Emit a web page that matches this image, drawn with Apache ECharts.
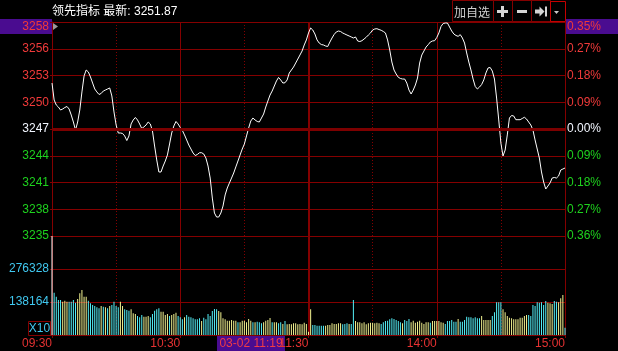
<!DOCTYPE html>
<html><head><meta charset="utf-8">
<script src="https://cdn.jsdelivr.net/npm/echarts@6/dist/echarts.min.js"></script>
<style>html,body{margin:0;padding:0;background:#000;}#c{width:618px;height:351px;}</style>
</head><body><div id="c"></div>
<script>
// ---------- data ----------
const titleText = '领先指标';
const latestLabel = '最新:';
const latestValue = '3251.87';
const cursorDate = '03-02';
const cursorTime = '11:19';
const buttonText = '加自选';
const prevClose = 3246.9;
const priceStep = 2.875;
const leftLabels = ['3235','3238','3241','3244','3247','3250','3253','3256','3258'];
const rightLabels = ['0.36%','0.27%','0.18%','0.09%','0.00%','0.09%','0.18%','0.27%','0.35%'];
const volTick = 138164;
const volLabels = ['', '138164', '276328', ''];
const volUnitLabel = 'X10';
const timeTicks = ['09:30','10:30','11:30','14:00','15:00'];
const hourLines = ['10:30','14:00'];
const breakLines = ['11:30'];
const halfHourLines = ['10:00','11:00','13:30','14:30'];

const prices = [
3251.84,3250.02,3249.48,3249.26,3248.94,3249.05,3249.21,3249.32,3249.05,3248.40,
3247.65,3246.79,3247.65,3248.94,3250.88,3252.60,3253.24,3253.03,3252.49,3251.84,
3251.20,3250.88,3250.61,3250.72,3250.98,3251.09,3251.20,3251.31,3250.45,3248.73,
3247.33,3246.47,3246.47,3246.42,3246.15,3245.66,3246.15,3247.44,3247.87,3248.14,
3247.87,3247.44,3246.95,3247.12,3247.33,3247.65,3247.44,3246.69,3245.07,3243.57,
3242.28,3242.28,3242.92,3243.46,3244.11,3245.29,3246.47,3247.22,3247.71,3247.44,
3247.06,3246.74,3246.26,3245.72,3245.18,3244.75,3244.32,3244.05,3244.16,3244.35,
3244.35,3244.21,3243.78,3242.92,3241.63,3239.48,3237.87,3237.44,3237.44,3237.87,
3238.62,3239.81,3240.56,3241.10,3241.63,3242.17,3242.82,3243.46,3244.11,3244.75,
3245.29,3246.15,3247.01,3247.76,3248.08,3247.87,3247.71,3247.65,3248.08,3248.51,
3249.26,3249.91,3250.55,3250.98,3251.52,3252.06,3252.44,3252.17,3251.84,3251.87,
3252.17,3252.92,3253.24,3253.56,3253.99,3254.42,3254.85,3255.28,3255.93,3256.47,
3257.22,3257.76,3257.54,3257.11,3256.47,3256.14,3255.98,3255.93,3255.82,3255.77,
3256.25,3256.68,3257.06,3257.33,3257.43,3257.38,3257.22,3257.11,3257.00,3256.90,
3256.79,3256.68,3256.79,3256.36,3256.30,3256.39,3256.57,3256.76,3257.00,3257.22,
3257.54,3257.65,3257.68,3257.59,3257.51,3257.38,3257.22,3256.47,3255.39,3254.10,
3253.24,3252.81,3252.46,3252.33,3252.27,3252.27,3251.84,3251.09,3250.66,3251.09,
3251.63,3252.38,3253.99,3254.85,3255.28,3255.71,3255.96,3256.25,3256.36,3256.39,
3256.73,3257.22,3257.92,3258.24,3258.29,3258.29,3257.86,3257.43,3257.11,3256.95,
3256.86,3257.04,3256.68,3256.14,3255.07,3254.10,3253.24,3252.27,3251.47,3251.20,
3251.41,3251.68,3252.17,3252.92,3253.46,3253.51,3253.13,3252.27,3250.23,3247.87,
3245.40,3244.00,3244.64,3246.26,3248.08,3248.35,3248.30,3247.90,3247.90,3247.90,
3248.03,3248.16,3247.97,3247.65,3247.33,3246.79,3245.72,3244.75,3243.78,3242.28,
3241.20,3240.45,3240.77,3241.10,3241.63,3241.69,3241.63,3241.85,3242.49,3242.60,3242.71
];

const volumes = [
430000,177100,160400,146500,146500,139400,143600,139400,139400,139400,
146500,135200,150700,174600,188400,160400,160400,143600,132700,125600,
121400,116000,111800,121400,118500,116000,111800,121400,125600,139400,
121400,116000,139400,121400,107600,104700,101700,107600,90900,87900,
79600,74100,83700,76600,76600,79600,74100,87900,101700,107600,
111800,97600,97600,83700,87900,79600,83700,87900,93400,79600,
74100,65700,74100,83700,76600,74100,69900,65700,65700,69900,
58600,72400,65700,87900,79600,100500,108900,107600,100500,95000,
69900,65700,59900,59900,62800,59900,59900,53200,53200,59900,
59900,53200,67000,59900,53200,53200,55700,53200,49000,53200,
59900,62800,71200,53200,53200,53200,49000,53200,46100,58600,
44800,46100,44800,49000,49000,44800,46100,44800,51500,46100,
13800,107600,41900,41900,38900,38900,38900,38900,38900,41900,
41900,49000,46100,46100,49000,49000,44800,46100,49000,46100,
46100,146500,58600,53200,53200,49000,53200,44800,49000,51500,
51500,49000,51500,49000,46100,53200,58600,59900,65700,69900,
67000,62800,58600,53200,49000,62800,58600,67000,53200,59900,
51500,55700,59900,51500,46100,53200,53200,51500,58600,58600,
58600,58600,53200,51500,46100,58600,58600,62800,55700,55700,
67000,55700,55700,62800,76600,74100,74100,69900,74100,69900,
69900,79600,62800,62800,62800,62800,79600,95000,136900,136900,
136900,107600,95000,79600,72400,69900,65700,65700,65700,72400,
72400,79600,83700,83700,79600,125600,121400,136900,135200,136900,
125600,142400,135200,132700,129800,142400,139400,136900,153700,167500,30600
];

// w = first print, c = down minute, y = up minute
const volKinds =
  'w' +
  'ccccyyyccc' + 'cyyyyycccc' + 'ccycycyccc' + 'cyycccyyyc' + 'ccyyyccccc' +
  'yyyycyyycc' + 'cycccccccy' + 'cccccccyyy' + 'yyyyyycyyy' + 'yyycycccyy' +
  'yycyyccycy' + 'yyyyyyyyyy' + 'yccccccyyy' + 'yyyyycccyc' + 'cyyyyyyyyy' +
  'yyyccccccc' + 'cccycccyyy' + 'yyyyyycyyy' + 'yyyccccccy' + 'cccccccccc' +
  'yyyyyccccc' + 'yyyyyyyyyy' + 'yycccccccc' + 'cyyyccyyyc';

// ---------- categories ----------
function hhmm(m){ const h = Math.floor(m/60), mm = m%60; return (h<10?'0':'')+h+':'+(mm<10?'0':'')+mm; }
const times = [];
for (let m = 9*60+30; m <= 11*60+30; m++) times.push(hhmm(m));
for (let m = 13*60+1; m <= 15*60; m++) times.push(hhmm(m));

// ---------- style ----------
const RED = '#840000';
const TXT_RED = '#f03a3a';
const TXT_GREEN = '#1ed21e';
const TXT_WHITE = '#f2f6ff';
const CYAN_TXT = '#40c8f0';
const PURPLE = '#4a0c90';
const FONT = '"Liberation Sans", Arial, sans-serif';
const volColorMap = { w: '#ffffff', c: '#54f0f8', y: '#f2f290' };

const inList = arr => (idx, val) => arr.indexOf(val !== undefined ? val : times[idx]) >= 0;
const signColor = v => { v = Number(v); return v > 0.001 ? TXT_RED : (v < -0.001 ? TXT_GREEN : TXT_WHITE); };

function xa(gridIndex, extra) {
  return Object.assign({
    type: 'category', gridIndex, data: times, boundaryGap: false, position: 'bottom',
    axisLine: { show: false }, axisTick: { show: false }, axisLabel: { show: false },
    splitLine: { show: false }
  }, extra);
}
const solidSplit = (list, w) => ({ show: true, interval: inList(list), lineStyle: { color: RED, width: w } });
const dotSplit = list => ({ show: true, interval: inList(list), lineStyle: { color: RED, width: 1, type: [1, 2] } });

const chart = echarts.init(document.getElementById('c'), null, { renderer: 'canvas' });

chart.setOption({
  backgroundColor: '#000',
  animation: false,
  grid: [
    { left: 52, top: 22, width: 513, height: 214, show: false },
    { left: 52, top: 236, width: 513, height: 99, show: false }
  ],
  xAxis: [
    xa(0, { splitLine: solidSplit(hourLines, 1) }),
    xa(0, { splitLine: solidSplit(breakLines, 2) }),
    xa(0, { splitLine: dotSplit(halfHourLines) }),
    xa(1, {
      splitLine: solidSplit(hourLines, 1),
      axisTick: { show: true, length: 3, interval: inList(timeTicks), lineStyle: { color: RED } },
      axisLabel: { show: true, interval: inList(timeTicks), align: 'right', margin: 3,
        color: '#e63232', fontFamily: FONT, fontSize: 12 }
    }),
    xa(1, { splitLine: solidSplit(breakLines, 2) }),
    xa(1, { splitLine: dotSplit(halfHourLines) })
  ],
  yAxis: [
    { type: 'value', gridIndex: 0, position: 'left', min: -4, max: 4, interval: 1,
      axisLine: { show: true, lineStyle: { color: RED } },
      axisTick: { show: true, length: 2, lineStyle: { color: RED } },
      splitLine: { show: true, lineStyle: { color: RED, width: 1 } },
      axisLabel: { margin: 3, fontFamily: FONT, fontSize: 12,
        formatter: v => (Math.round(v) === 4 ? '' : leftLabels[Math.round(v) + 4]),
        color: v => signColor(v) } },
    { type: 'value', gridIndex: 0, position: 'right', min: -4, max: 4, interval: 1,
      axisLine: { show: true, lineStyle: { color: RED } },
      axisTick: { show: false }, splitLine: { show: false },
      axisLabel: { margin: 2, fontFamily: FONT, fontSize: 12,
        formatter: v => (Math.round(v) === 4 ? '' : rightLabels[Math.round(v) + 4]),
        color: v => signColor(v) } },
    { type: 'value', gridIndex: 0, position: 'left',
      min: prevClose - 4 * priceStep, max: prevClose + 4 * priceStep,
      show: false, splitLine: { show: false } },
    { type: 'value', gridIndex: 1, position: 'left', min: 0, max: volTick * 3, interval: volTick,
      axisLine: { show: true, lineStyle: { color: RED } },
      axisTick: { show: true, length: 2, lineStyle: { color: RED } },
      splitLine: { show: true, lineStyle: { color: RED, width: 1 } },
      axisLabel: { margin: 3, fontFamily: FONT, fontSize: 12, color: CYAN_TXT,
        formatter: v => volLabels[Math.round(v / volTick)] || '' } },
    { type: 'value', gridIndex: 1, position: 'right', min: 0, max: volTick * 3,
      axisLine: { show: true, lineStyle: { color: RED } },
      axisTick: { show: false }, axisLabel: { show: false }, splitLine: { show: false } }
  ],
  series: [
    { type: 'line', xAxisIndex: 0, yAxisIndex: 2, data: [], z: 1, silent: true,
      markLine: { silent: true, symbol: 'none', animation: false, label: { show: false },
        lineStyle: { color: '#7c0000', width: 3, type: 'solid', opacity: 1 },
        emphasis: { disabled: true },
        data: [{ yAxis: prevClose }] } },
    { type: 'line', xAxisIndex: 0, yAxisIndex: 2, data: prices, z: 4, silent: true,
      symbol: 'none', showSymbol: false, lineStyle: { color: '#ffffff', width: 1 } },
    { type: 'bar', xAxisIndex: 3, yAxisIndex: 3, z: 4, silent: true, barWidth: 1, clip: true,
      data: volumes.map((v, i) => ({ value: v, itemStyle: { color: volColorMap[volKinds[i]] } })) }
  ]
});

// ---------- decorations / header ----------
const yTop = chart.convertToPixel({ yAxisIndex: 0 }, 4);
const xCursor = chart.convertToPixel({ xAxisIndex: 0 }, times.indexOf(cursorTime));
const ICON = '#d4d4d4';
const gfx = [
  { type: 'text', x: 52, y: 12, style: { text: titleText + ' ' + latestLabel + ' ' + latestValue,
      fill: '#ffffff', font: '12px "Liberation Sans","Noto Sans CJK SC",sans-serif', verticalAlign: 'middle', align: 'left' } },
  // buttons
  { type: 'rect', shape: { x: 452.5, y: 0.5, width: 41, height: 21 }, style: { fill: 'none', stroke: RED, lineWidth: 1 } },
  { type: 'rect', shape: { x: 493.5, y: 0.5, width: 19, height: 21 }, style: { fill: 'none', stroke: RED, lineWidth: 1 } },
  { type: 'rect', shape: { x: 512.5, y: 0.5, width: 19, height: 21 }, style: { fill: 'none', stroke: RED, lineWidth: 1 } },
  { type: 'rect', shape: { x: 531.5, y: 0.5, width: 19, height: 21 }, style: { fill: 'none', stroke: RED, lineWidth: 1 } },
  { type: 'rect', shape: { x: 550.5, y: 1.5, width: 15, height: 20 }, style: { fill: 'none', stroke: '#c40000', lineWidth: 1 } },
  { type: 'text', x: 472, y: 12, style: { text: buttonText, fill: '#cfcfcf', font: '12px "Noto Sans CJK SC",sans-serif', align: 'center', verticalAlign: 'middle' } },
  { type: 'rect', shape: { x: 497, y: 10, width: 11, height: 3 }, style: { fill: ICON } },
  { type: 'rect', shape: { x: 501, y: 6, width: 3, height: 11 }, style: { fill: ICON } },
  { type: 'rect', shape: { x: 517, y: 10, width: 10, height: 3 }, style: { fill: ICON } },
  { type: 'polygon', shape: { points: [[535,9.5],[539.5,9.5],[539.5,6.5],[544.5,11.5],[539.5,16.5],[539.5,13.5],[535,13.5]] }, style: { fill: ICON } },
  { type: 'rect', shape: { x: 545, y: 6.5, width: 2, height: 10 }, style: { fill: ICON } },
  { type: 'polygon', shape: { points: [[554,11],[559,11],[556.5,14]] }, style: { fill: '#c8c8c8' } },
  // top value boxes
  { type: 'rect', shape: { x: 0, y: yTop - 3, width: 52, height: 15 }, style: { fill: PURPLE } },
  { type: 'text', x: 49, y: yTop + 5, style: { text: leftLabels[8], fill: TXT_RED, font: '12px ' + FONT, align: 'right', verticalAlign: 'middle' } },
  { type: 'rect', shape: { x: 566, y: yTop - 3, width: 52, height: 15 }, style: { fill: PURPLE } },
  { type: 'text', x: 567, y: yTop + 5, style: { text: rightLabels[8], fill: TXT_RED, font: '12px ' + FONT, align: 'left', verticalAlign: 'middle' } },
  { type: 'polygon', shape: { points: [[53,yTop+1],[58,yTop+4.5],[53,yTop+8]] }, style: { fill: '#9a9a9a' } },
  // volume unit box
  { type: 'rect', shape: { x: 28.5, y: 321.5, width: 22, height: 14 }, style: { fill: 'none', stroke: RED, lineWidth: 1 } },
  { type: 'text', x: 39.5, y: 329, style: { text: volUnitLabel, fill: CYAN_TXT, font: '12px ' + FONT, align: 'center', verticalAlign: 'middle' } },
  // cursor time box
  { type: 'rect', shape: { x: xCursor - 68, y: 336, width: 68, height: 15 }, style: { fill: PURPLE } },
  { type: 'text', x: xCursor - 34, y: 344, style: { text: cursorDate + ' ' + cursorTime, fill: '#f03c46', font: '12px ' + FONT, align: 'center', verticalAlign: 'middle' } }
];
chart.setOption({ graphic: { elements: gfx } });
</script>
</body></html>
